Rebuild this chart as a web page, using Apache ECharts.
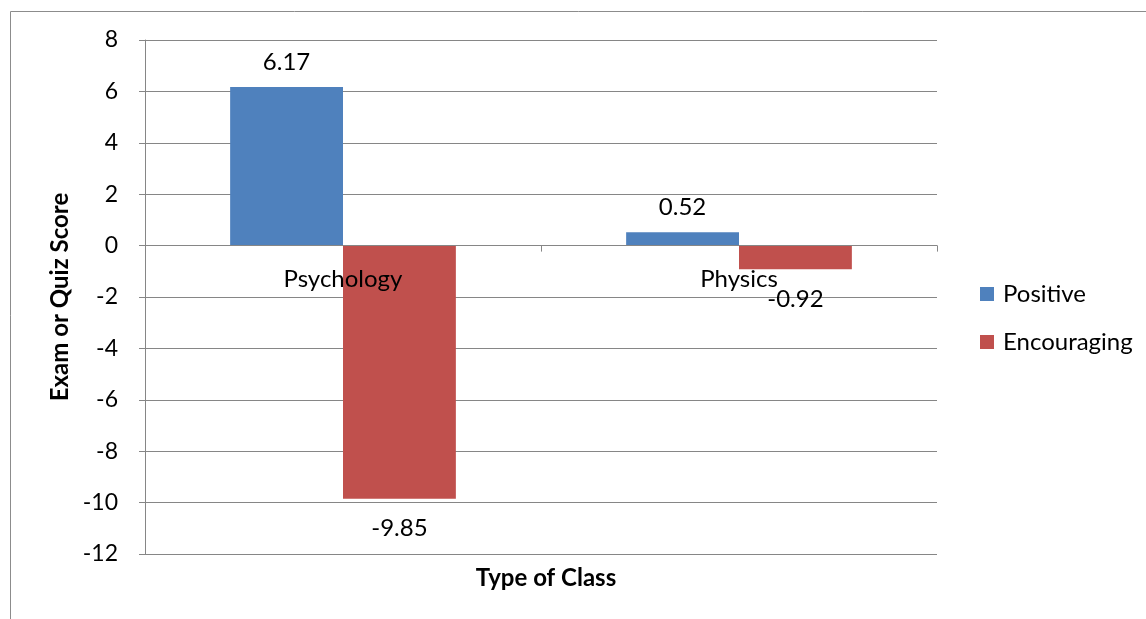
<!DOCTYPE html>
<html>
<head>
<meta charset="utf-8">
<script src="https://cdn.jsdelivr.net/npm/echarts@6/dist/echarts.min.js"></script>
<style>
  html, body { margin: 0; padding: 0; background: #fff; }
  #chart { width: 1146px; height: 619px; }
</style>
</head>
<body>
<div id="chart"></div>
<script>
// Class types and score differences per feedback style
const categories = ['Psychology', 'Physics'];
const positive = [6.17, 0.52];
const encouraging = [-9.85, -0.92];
const seriesNames = ['Positive', 'Encouraging'];

const FONT = 'Lato, "Open Sans", sans-serif';
const TEXT = '#000';
const GRID = '#868686';
const Y_MIN = -12, Y_MAX = 8;

const chart = echarts.init(document.getElementById('chart'));

chart.setOption({
  animation: false,
  textStyle: { fontFamily: FONT },
  graphic: [{
    type: 'rect',
    shape: { x: 10.5, y: 11.5, width: 1200, height: 700 },
    style: { fill: 'none', stroke: '#8c8c8c', lineWidth: 1 },
    silent: true
  }],
  title: {
    text: 'Type of Class',
    left: 541,
    top: 561,
    textAlign: 'center',
    textStyle: { fontFamily: FONT, fontSize: 24, fontWeight: 'bold', color: TEXT }
  },
  legend: {
    orient: 'vertical',
    left: 980,
    top: 282,
    padding: 0,
    itemWidth: 14,
    itemHeight: 14,
    itemGap: 24,
    icon: 'rect',
    data: seriesNames,
    textStyle: { fontFamily: FONT, fontSize: 24, color: TEXT, padding: [0, 0, 0, 4] }
  },
  grid: { left: 145, right: 209, top: 40, bottom: 65 },
  xAxis: {
    type: 'category',
    data: categories,
    z: 10,
    position: 'bottom',
    axisLine: { onZero: false, lineStyle: { color: GRID, width: 1 } },
    axisTick: { show: true, inside: false, length: 6, lineStyle: { color: GRID } },
    axisLabel: { fontFamily: FONT, fontSize: 24, color: TEXT, margin: 22 },
    splitLine: { show: false }
  },
  yAxis: {
    type: 'value',
    min: Y_MIN,
    max: Y_MAX,
    interval: 2,
    name: 'Exam or Quiz Score',
    nameLocation: 'middle',
    nameGap: 71,
    nameTextStyle: { fontFamily: FONT, fontSize: 24, fontWeight: 'bold', color: TEXT },
    axisLine: { show: true, lineStyle: { color: GRID, width: 1 } },
    axisTick: { show: true, length: 6, lineStyle: { color: GRID } },
    axisLabel: { fontFamily: FONT, fontSize: 23, color: TEXT, margin: 27 },
    splitLine: { show: true, lineStyle: { color: GRID, width: 1 } }
  },
  series: [
    {
      name: seriesNames[0],
      type: 'bar',
      data: positive,
      barGap: '0%',
      barCategoryGap: '43%',
      itemStyle: { color: '#4F81BD' },
      label: {
        show: true,
        position: 'top',
        distance: 13,
        fontFamily: FONT, fontSize: 24, color: TEXT
      }
    },
    {
      name: seriesNames[1],
      type: 'bar',
      data: encouraging,
      barGap: '0%',
      barCategoryGap: '43%',
      itemStyle: { color: '#C0504D' },
      label: {
        show: true,
        position: 'bottom',
        distance: 18,
        fontFamily: FONT, fontSize: 24, color: TEXT
      }
    }
  ]
});

// Lift the category axis (line, ticks and labels) onto the value-axis zero line
const zeroPx = chart.convertToPixel({ yAxisIndex: 0 }, 0);
const bottomPx = chart.convertToPixel({ yAxisIndex: 0 }, Y_MIN);
chart.setOption({ xAxis: { offset: -(bottomPx - zeroPx) } });
</script>
</body>
</html>
